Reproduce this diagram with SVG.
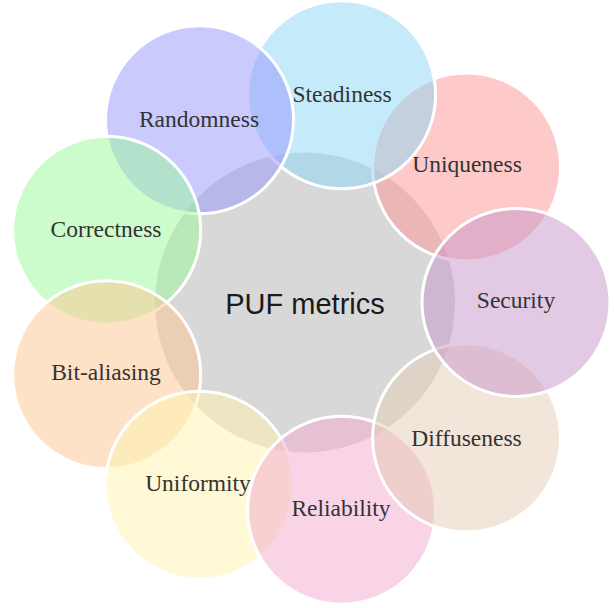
<svg xmlns="http://www.w3.org/2000/svg" width="614" height="608" viewBox="0 0 614 608">
<style>
.b{stroke:#fff;stroke-width:3;fill-opacity:0.5}
.t{font-family:"Liberation Serif","Times New Roman",serif;font-size:23.5px;fill:#333;text-anchor:middle}
.c{font-family:"Liberation Sans",Arial,sans-serif;font-size:29px;fill:#1a1a1a;text-anchor:middle}
</style>
<rect width="614" height="608" fill="#fff"/>
<g id="center">
<circle cx="305" cy="302.5" r="150" fill="#d8d8d8"/>
<text class="c" x="305" y="314">PUF metrics</text>
</g>
<g id="uniqueness"><circle class="b" cx="466.6" cy="166.9" r="94" fill="#fd9393"/><text class="t" x="467" y="172">Uniqueness</text></g>
<g id="steadiness"><circle class="b" cx="341.6" cy="94.7" r="94" fill="#8bd7f5"/><text class="t" x="342" y="102">Steadiness</text></g>
<g id="randomness"><circle class="b" cx="199.5" cy="119.8" r="94" fill="#9595fb"/><text class="t" x="199" y="127">Randomness</text></g>
<g id="correctness"><circle class="b" cx="106.7" cy="230.3" r="94" fill="#99f999"/><text class="t" x="106" y="237">Correctness</text></g>
<g id="bitaliasing"><circle class="b" cx="106.7" cy="374.7" r="94" fill="#fbc591"/><text class="t" x="106" y="380">Bit-aliasing</text></g>
<g id="uniformity"><circle class="b" cx="199.5" cy="485.2" r="94" fill="#fff3ad"/><text class="t" x="198" y="491">Uniformity</text></g>
<g id="reliability"><circle class="b" cx="341.6" cy="510.3" r="94" fill="#f3a7cd"/><text class="t" x="341" y="516">Reliability</text></g>
<g id="diffuseness"><circle class="b" cx="466.6" cy="438.1" r="94" fill="#e5cbb3"/><text class="t" x="466.5" y="446">Diffuseness</text></g>
<g id="security"><circle class="b" cx="516" cy="302.5" r="94" fill="#c595c9"/><text class="t" x="516" y="308">Security</text></g>
<g id="connectors"></g>
</svg>
